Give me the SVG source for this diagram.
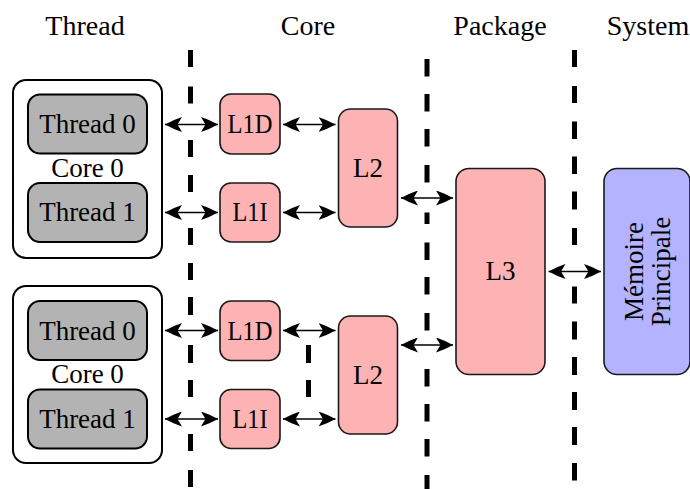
<svg xmlns="http://www.w3.org/2000/svg" width="690" height="489" viewBox="0 0 690 489">
<defs>
<style>
text{font-family:"Liberation Serif","Times New Roman",serif;font-size:27px;fill:#000;text-anchor:middle}
.hdr{font-size:28px}
.core{fill:#fff;stroke:#000;stroke-width:2}
.thr{fill:#b3b3b3;stroke:#000;stroke-width:2}
.cache{fill:#fdb3b3;stroke:#1a1a1a;stroke-width:1.6}
.mem{fill:#b3b3ff;stroke:#1a1a1a;stroke-width:1.6}
.sep{stroke:#000;stroke-width:5;fill:none}
.arr{stroke:#000;stroke-width:1.6;fill:none;marker-start:url(#ah);marker-end:url(#ah)}
</style>
<marker id="ah" viewBox="0 0 17 15" refX="17" refY="7.5" markerWidth="17" markerHeight="15" markerUnits="userSpaceOnUse" orient="auto-start-reverse">
<path d="M17,7.5 Q8,2.5 0,0 L4.5,7.5 L0,15 Q8,12.5 17,7.5 Z" fill="#000"/>
</marker>
</defs>
<rect width="690" height="489" fill="#fff"/>

<g id="headers">
<text class="hdr" x="85" y="35">Thread</text>
<text class="hdr" x="308" y="35">Core</text>
<text class="hdr" x="500" y="35">Package</text>
<text class="hdr" x="648" y="35">System</text>
</g>

<g id="separators">
<path class="sep" d="M190.5,50v17M190.5,86.5v17M190.5,140v17M190.5,175v17M190.5,228v17M190.5,263v17M190.5,297v18M190.5,345v18M190.5,380v17M190.5,434v17M190.5,470v17"/>
<path class="sep" d="M427,59v17.5M427,94v17.5M427,129v17.5M427,165v17.5M427,212.5v11.5M427,242.5v17.5M427,277v17.5M427,313v17.5M427,369v17.5M427,404v17.5M427,439v17.5M427,475v14"/>
<path class="sep" d="M574.5,50v17M574.5,86v17M574.5,121.5v17.5M574.5,156.5v17.5M574.5,191.5v18M574.5,228v17M574.5,286.5v17M574.5,321.5v18M574.5,357v18M574.5,392v18M574.5,427v18M574.5,463v17.5"/>
<path class="sep" d="M308.5,345v18M308.5,380v17"/>
</g>

<g id="core0-top">
<rect class="core" x="13" y="80" width="149" height="178" rx="13"/>
<text x="87.5" y="177">Core 0</text>
</g>
<g id="thread0-top">
<rect class="thr" x="28" y="94.5" width="119" height="59" rx="12"/>
<text x="87.5" y="133">Thread 0</text>
</g>
<g id="thread1-top">
<rect class="thr" x="28" y="183" width="119" height="59" rx="12"/>
<text x="87.5" y="221">Thread 1</text>
</g>

<g id="core0-bottom">
<rect class="core" x="13" y="286" width="149" height="177" rx="13"/>
<text x="87.5" y="383">Core 0</text>
</g>
<g id="thread0-bottom">
<rect class="thr" x="28" y="301" width="119" height="59" rx="12"/>
<text x="87.5" y="340">Thread 0</text>
</g>
<g id="thread1-bottom">
<rect class="thr" x="28" y="389.5" width="119" height="59" rx="12"/>
<text x="87.5" y="428">Thread 1</text>
</g>

<g id="l1d-top">
<rect class="cache" x="220" y="94" width="60" height="60" rx="11"/>
<text x="250" y="133" textLength="45" lengthAdjust="spacingAndGlyphs">L1D</text>
</g>
<g id="l1i-top">
<rect class="cache" x="220" y="183" width="60" height="59" rx="11"/>
<text x="250" y="221" textLength="35" lengthAdjust="spacingAndGlyphs">L1I</text>
</g>
<g id="l1d-bottom">
<rect class="cache" x="220" y="301" width="60" height="59.5" rx="11"/>
<text x="250" y="340" textLength="45" lengthAdjust="spacingAndGlyphs">L1D</text>
</g>
<g id="l1i-bottom">
<rect class="cache" x="220" y="389.5" width="60" height="59" rx="11"/>
<text x="250" y="428" textLength="35" lengthAdjust="spacingAndGlyphs">L1I</text>
</g>

<g id="l2-top">
<rect class="cache" x="338.5" y="109" width="59" height="118" rx="12"/>
<text x="368" y="177">L2</text>
</g>
<g id="l2-bottom">
<rect class="cache" x="338.5" y="316" width="59" height="118" rx="12"/>
<text x="368" y="384">L2</text>
</g>

<g id="l3">
<rect class="cache" x="456" y="168.5" width="89" height="206" rx="13"/>
<text x="500.5" y="280">L3</text>
</g>

<g id="memoire">
<rect class="mem" x="604" y="168.5" width="86" height="206" rx="13"/>
<text transform="translate(643,271.5) rotate(-90)" x="0" y="0">Mémoire</text>
<text transform="translate(670,271.5) rotate(-90)" x="0" y="0">Principale</text>
</g>

<g id="connectors">
<line class="arr" x1="165" y1="124.5" x2="218" y2="124.5"/>
<line class="arr" x1="165" y1="212.5" x2="218" y2="212.5"/>
<line class="arr" x1="165" y1="330.5" x2="218" y2="330.5"/>
<line class="arr" x1="165" y1="419" x2="218" y2="419"/>
<line class="arr" x1="283" y1="124.5" x2="335.5" y2="124.5"/>
<line class="arr" x1="283" y1="212.5" x2="335.5" y2="212.5"/>
<line class="arr" x1="283" y1="330.5" x2="335.5" y2="330.5"/>
<line class="arr" x1="283" y1="419" x2="335.5" y2="419"/>
<line class="arr" x1="401" y1="198" x2="453" y2="198"/>
<line class="arr" x1="401" y1="345" x2="453" y2="345"/>
<line class="arr" x1="548.5" y1="271.5" x2="601" y2="271.5"/>
</g>
</svg>
